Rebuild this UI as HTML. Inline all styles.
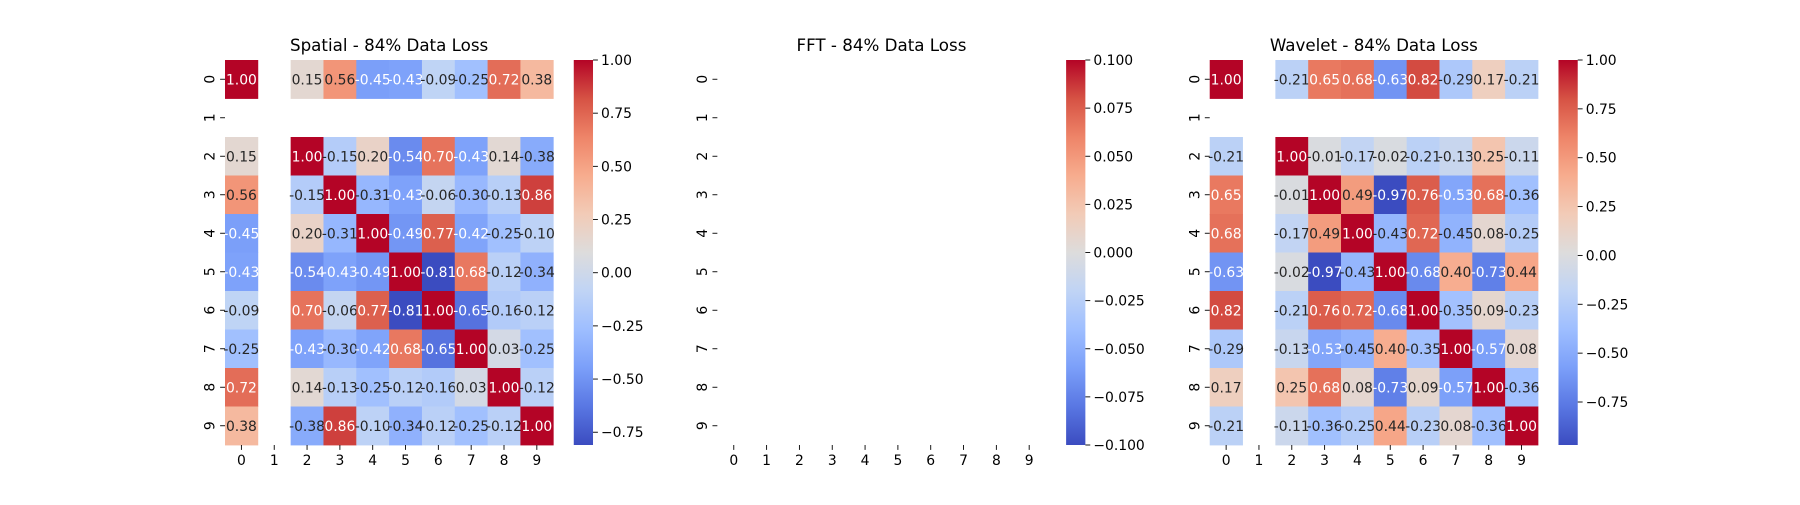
<!DOCTYPE html>
<html><head><meta charset="utf-8"><style>
body{margin:0;background:#fff}
svg text{font-family:"DejaVu Sans","Liberation Sans",sans-serif;}
</style></head><body>
<svg id="fig" width="1800" height="500" viewBox="0 0 1800 500" xmlns="http://www.w3.org/2000/svg">
<defs>
<linearGradient id="cw" x1="0" y1="1" x2="0" y2="0">
<stop offset="0" stop-color="#3b4cc0"/><stop offset="0.1" stop-color="#5977e3"/><stop offset="0.2" stop-color="#7b9ff9"/><stop offset="0.3" stop-color="#9ebeff"/><stop offset="0.4" stop-color="#c0d4f5"/><stop offset="0.5" stop-color="#dddcdc"/><stop offset="0.6" stop-color="#f2cbb7"/><stop offset="0.7" stop-color="#f7ac8e"/><stop offset="0.8" stop-color="#ee8468"/><stop offset="0.9" stop-color="#d65244"/><stop offset="1" stop-color="#b40426"/>
</linearGradient>
</defs>
</svg>
<script>
const titles = ["Spatial - 84% Data Loss","FFT - 84% Data Loss","Wavelet - 84% Data Loss"];
const labels = ["0","1","2","3","4","5","6","7","8","9"];
const N = null;
const spatial = [
[1.00,N,0.15,0.56,-0.45,-0.43,-0.09,-0.25,0.72,0.38],
[N,N,N,N,N,N,N,N,N,N],
[0.15,N,1.00,-0.15,0.20,-0.54,0.70,-0.43,0.14,-0.38],
[0.56,N,-0.15,1.00,-0.31,-0.43,-0.06,-0.30,-0.13,0.86],
[-0.45,N,0.20,-0.31,1.00,-0.49,0.77,-0.42,-0.25,-0.10],
[-0.43,N,-0.54,-0.43,-0.49,1.00,-0.81,0.68,-0.12,-0.34],
[-0.09,N,0.70,-0.06,0.77,-0.81,1.00,-0.65,-0.16,-0.12],
[-0.25,N,-0.43,-0.30,-0.42,0.68,-0.65,1.00,0.03,-0.25],
[0.72,N,0.14,-0.13,-0.25,-0.12,-0.16,0.03,1.00,-0.12],
[0.38,N,-0.38,0.86,-0.10,-0.34,-0.12,-0.25,-0.12,1.00]];
const fft = [[N,N,N,N,N,N,N,N,N,N],[N,N,N,N,N,N,N,N,N,N],[N,N,N,N,N,N,N,N,N,N],[N,N,N,N,N,N,N,N,N,N],[N,N,N,N,N,N,N,N,N,N],[N,N,N,N,N,N,N,N,N,N],[N,N,N,N,N,N,N,N,N,N],[N,N,N,N,N,N,N,N,N,N],[N,N,N,N,N,N,N,N,N,N],[N,N,N,N,N,N,N,N,N,N]];
const wavelet = [
[1.00,N,-0.21,0.65,0.68,-0.63,0.82,-0.29,0.17,-0.21],
[N,N,N,N,N,N,N,N,N,N],
[-0.21,N,1.00,-0.01,-0.17,-0.02,-0.21,-0.13,0.25,-0.11],
[0.65,N,-0.01,1.00,0.49,-0.97,0.76,-0.53,0.68,-0.36],
[0.68,N,-0.17,0.49,1.00,-0.43,0.72,-0.45,0.08,-0.25],
[-0.63,N,-0.02,-0.97,-0.43,1.00,-0.68,0.40,-0.73,0.44],
[0.82,N,-0.21,0.76,0.72,-0.68,1.00,-0.35,0.09,-0.23],
[-0.29,N,-0.13,-0.53,-0.45,0.40,-0.35,1.00,-0.57,0.08],
[0.17,N,0.25,0.68,0.08,-0.73,0.09,-0.57,1.00,-0.36],
[-0.21,N,-0.11,-0.36,-0.25,0.44,-0.23,0.08,-0.36,1.00]];
const cbTicks1 = [-0.75,-0.5,-0.25,0,0.25,0.5,0.75,1.0];
const cbTicks2 = [-0.1,-0.075,-0.05,-0.025,0,0.025,0.05,0.075,0.1];
const cbTicks3 = [-0.75,-0.5,-0.25,0,0.25,0.5,0.75,1.0];

const cmap=[[59,76,192],[89,119,227],[123,159,249],[158,190,255],[192,212,245],[221,220,220],[242,203,183],[247,172,142],[238,132,104],[214,82,68],[180,4,38]];
function color(t){t=Math.max(0,Math.min(1,t));const p=t*10,i=Math.min(9,Math.floor(p)),f=p-i;
 return cmap[i].map((c,k)=>c+(cmap[i+1][k]-c)*f);}
function lum(c){const l=c.map(v=>{v/=255;return v<=0.03928?v/12.92:Math.pow((v+0.055)/1.055,2.4)});return 0.2126*l[0]+0.7152*l[1]+0.0722*l[2];}
const svg=document.getElementById('fig');const NS="http://www.w3.org/2000/svg";
function el(tag,at,parent){const e=document.createElementNS(NS,tag);for(const k in at)e.setAttribute(k,at[k]);(parent||svg).appendChild(e);return e;}
function fmt(v,d){const s=Math.abs(v).toFixed(d);return (v<0?"\u2212":"")+s;}

const axW=410.3, topY=60, H=385, hmW=axW*0.8, cbW=19.25;
const panels=[[spatial,cbTicks1,2,null],[fft,cbTicks2,3,[-0.1,0.1]],[wavelet,cbTicks3,2,null]];
panels.forEach((p,pi)=>{
 const [data,ticks,dec,fixed]=p;
 const x0=225+pi*axW*1.2;
 const g=el('g',{});
 
 
 let vals=data.flat().filter(v=>v!==null);
 let vmin=fixed?fixed[0]:Math.min(...vals), vmax=fixed?fixed[1]:Math.max(...vals);
 const cw=hmW/10, ch=H/10;
 const xs=j=>x0+j*cw, ys=i=>topY+i*ch;
 data.forEach((row,i)=>row.forEach((v,j)=>{
  if(v===null)return;
  const c=color((v-vmin)/(vmax-vmin));
  const r=el('rect',{x:xs(j),y:ys(i),width:cw+0.4,height:ch+0.4,fill:`rgb(${c.map(Math.round).join(',')})`},g);
  
  
  const t=el('text',{x:xs(j)+cw/2,y:ys(i)+ch/2+5,'text-anchor':'middle','font-size':'13.9',fill:lum(c)>0.408?'#262626':'#ffffff'},g);
  
  
  t.textContent=v.toFixed(2);
 }));
 const tt=el('text',{x:x0+hmW/2,y:topY-9,'text-anchor':'middle','font-size':'16.7',fill:'#000'},g);
 
 
 tt.textContent=titles[pi];
 labels.forEach((l,k)=>{
  const cx=xs(k)+cw/2, cy=ys(k)+ch/2;
  el('line',{x1:cx,y1:topY+H,x2:cx,y2:topY+H+4.9,stroke:'#000','stroke-width':0.9},g);
  const xt=el('text',{x:cx,y:topY+H+20,'text-anchor':'middle','font-size':'13.9'},g);
  
  
  xt.textContent=l;
  el('line',{x1:x0-4.9,y1:cy,x2:x0,y2:cy,stroke:'#000','stroke-width':0.9},g);
  const yt=el('text',{x:x0-9,y:cy,'text-anchor':'middle','font-size':'13.9',transform:`rotate(-90 ${x0-9} ${cy})`,dy:'-0.1em'},g);
  
  
  yt.textContent=l;
 });
 const cbx=x0+axW*0.85;
 const cb=el('rect',{x:cbx,y:topY,width:cbW,height:H,fill:'url(#cw)'},g);
 
 
 ticks.forEach(tv=>{
  if(tv<vmin-1e-9||tv>vmax+1e-9)return;
  const y=topY+H-(tv-vmin)/(vmax-vmin)*H;
  el('line',{x1:cbx+cbW,y1:y,x2:cbx+cbW+4.9,y2:y,stroke:'#000','stroke-width':0.9},g);
  const ct=el('text',{x:cbx+cbW+8,y:y+5,'font-size':'13.9'},g);
  
  
  ct.textContent=fmt(tv,dec);
 });
});
</script>
</body></html>
